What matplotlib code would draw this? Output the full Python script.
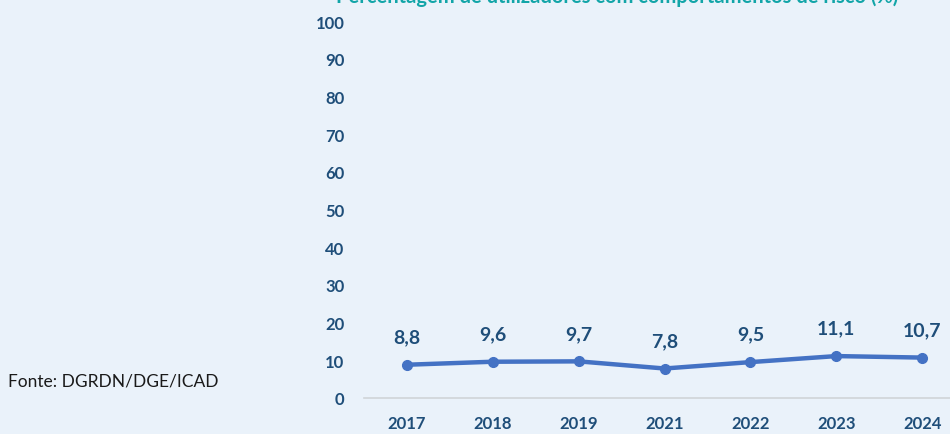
import matplotlib
matplotlib.use('Agg')
from matplotlib import pyplot as plt

years = ['2017', '2018', '2019', '2021', '2022', '2023', '2024']
values = [8.8, 9.6, 9.7, 7.8, 9.5, 11.1, 10.7]
value_labels = ['8,8', '9,6', '9,7', '7,8', '9,5', '11,1', '10,7']
y_ticks = list(range(0, 101, 10))

bg = '#EAF2FA'
dark_blue = '#1F4E79'
line_blue = '#4472C4'
teal = '#12A5A8'

plt.rcParams['font.family'] = ['Lato', 'DejaVu Sans']

fig = plt.figure(figsize=(9.5, 4.35), dpi=100, facecolor=bg)
ax = fig.add_axes([0.383, 0.083, 0.633, 0.866])
ax.set_facecolor(bg)

x = list(range(len(years)))
ax.plot(x, values, color=line_blue, linewidth=3.2, marker='o', markersize=7,
        solid_capstyle='round')
for xi, v, lab in zip(x, values, value_labels):
    ax.annotate(lab, (xi, v), xytext=(0, 14), textcoords='offset points',
                ha='center', va='bottom', fontsize=14, fontweight='bold',
                color=dark_blue)

ax.set_xlim(-0.5, len(years) - 0.5)
ax.set_ylim(0, 100)
ax.set_yticks(y_ticks)
ax.set_xticks(x)
ax.set_xticklabels(years)
ax.tick_params(axis='both', length=0, labelsize=12, labelcolor=dark_blue)
ax.tick_params(axis='y', pad=14)
ax.tick_params(axis='x', pad=12)
for lab in ax.get_xticklabels() + ax.get_yticklabels():
    lab.set_fontweight('bold')

for s in ['top', 'right', 'left']:
    ax.spines[s].set_visible(False)
ax.spines['bottom'].set_color('#D0D4D8')
ax.spines['bottom'].set_linewidth(1.2)

fig.text(0.008, 0.124, 'Fonte: DGRDN/DGE/ICAD', fontsize=12.5, color='#1A1A1A',
         va='center', ha='left')
# title is cut off at the top edge of the picture
fig.text(0.945, 0.993, 'Percentagem de utilizadores com comportamentos de risco (%)',
         fontsize=14.5, fontweight='bold', color=teal, ha='right', va='baseline')

fig.savefig('out.png', dpi=100, facecolor=bg)
